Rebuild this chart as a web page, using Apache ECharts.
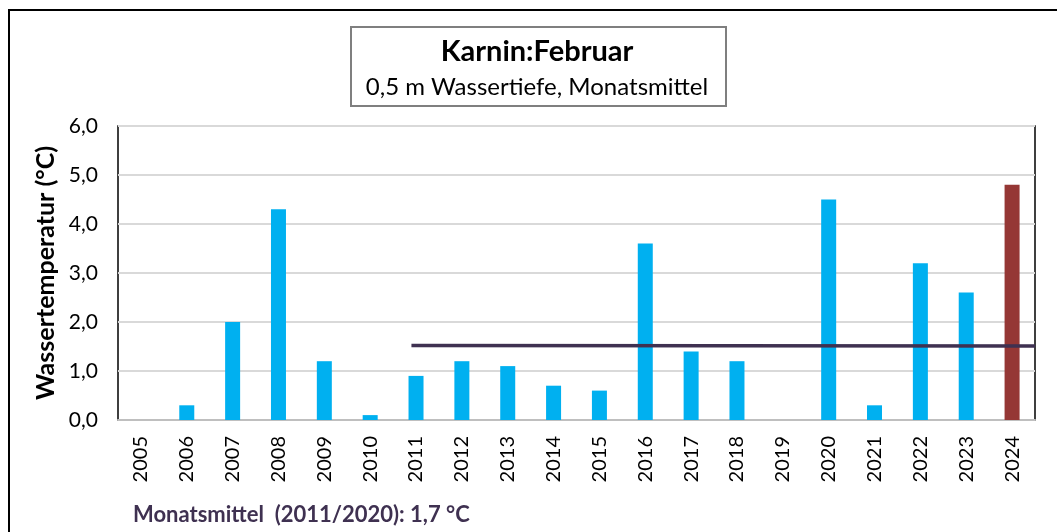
<!DOCTYPE html>
<html>
<head>
<meta charset="utf-8">
<script src="https://cdn.jsdelivr.net/npm/echarts@6/dist/echarts.min.js"></script>
<style>
  html, body { margin: 0; padding: 0; background: #fff; }
  #char { width: 1057px; height: 532px; }
</style>
</head>
<body>
<div id="char"></div>
<script>
// Jahre und Monatsmittel Februar (°C)
var years = ['2005','2006','2007','2008','2009','2010','2011','2012','2013','2014',
             '2015','2016','2017','2018','2019','2020','2021','2022','2023','2024'];
var temps = [null, 0.3, 2.0, 4.3, 1.2, 0.1, 0.9, 1.2, 1.1, 0.7,
             0.6, 3.6, 1.4, 1.2, null, 4.5, 0.3, 3.2, 2.6, 4.8];
// Mittellinie 2011/2020 (Position auf Kategorie-Skala, Wert)
var meanLine = [[6.4, 1.52], [20, 1.51]];
var yTicks = ['0,0','1,0','2,0','3,0','4,0','5,0','6,0'];

var FONT = 'Lato';
var chart = echarts.init(document.getElementById('char'));

var barData = temps.map(function (v, i) {
  if (i === temps.length - 1) {
    return { value: v, itemStyle: { color: '#953735' } };
  }
  return v;
});

var option = {
  animation: false,
  textStyle: { fontFamily: FONT },
  title: {
    text: 'Karnin:Februar',
    subtext: '0,5 m Wassertiefe, Monatsmittel',
    left: 532,
    top: 32,
    textAlign: 'center',
    itemGap: 9,
    textStyle: { fontFamily: FONT, fontSize: 29, fontWeight: 'bold', color: '#000' },
    subtextStyle: { fontFamily: FONT, fontSize: 24, color: '#000' }
  },
  graphic: [
    {
      type: 'rect',
      shape: { x: 9, y: 10, width: 1060, height: 540 },
      style: { fill: 'none', stroke: '#000', lineWidth: 2 },
      silent: true
    },
    {
      type: 'rect',
      shape: { x: 351, y: 27, width: 375, height: 79 },
      style: { fill: 'none', stroke: '#7f7f7f', lineWidth: 2 },
      silent: true
    },
    {
      type: 'text',
      left: 133,
      top: 504,
      style: {
        text: 'Monatsmittel  (2011/2020): 1,7 °C',
        font: 'bold 22px ' + FONT,
        fill: '#3F3151'
      }
    }
  ],
  grid: {
    left: 118,
    right: 22,
    top: 126,
    bottom: 112,
    show: true,
    borderColor: '#000',
    borderWidth: 1.5
  },
  xAxis: [
    {
      type: 'category',
      data: years,
      axisLine: { lineStyle: { color: '#bfbfbf', width: 2 } },
      axisTick: { show: false },
      axisLabel: { rotate: 90, fontSize: 20, color: '#000', margin: 16, interval: 0 }
    },
    {
      type: 'value',
      min: 0,
      max: 20,
      show: false
    }
  ],
  yAxis: {
    type: 'value',
    min: 0,
    max: 6,
    interval: 1,
    name: 'Wassertemperatur (°C)',
    nameLocation: 'middle',
    nameGap: 60,
    nameTextStyle: { fontSize: 25, fontWeight: 'bold', color: '#000' },
    axisLine: { show: false },
    axisTick: { show: false },
    splitLine: { lineStyle: { color: '#d9d9d9', width: 2 } },
    axisLabel: {
      fontSize: 21,
      color: '#000',
      margin: 20,
      formatter: function (v) { return yTicks[Math.round(v)]; }
    }
  },
  series: [
    {
      name: 'Februar',
      type: 'bar',
      data: barData,
      barWidth: 15,
      itemStyle: { color: '#00B0F0' }
    },
    {
      name: 'Mittel 2011/2020',
      type: 'line',
      xAxisIndex: 1,
      data: meanLine,
      symbol: 'none',
      lineStyle: { color: '#3F3151', width: 3.5 }
    }
  ]
};

chart.setOption(option);
</script>
</body>
</html>
